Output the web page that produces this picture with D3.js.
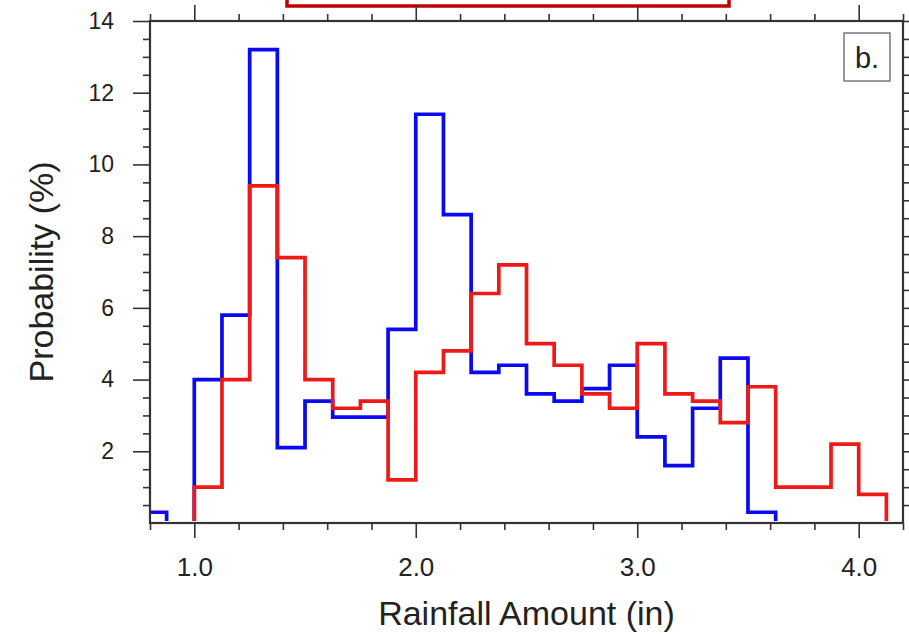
<!DOCTYPE html>
<html>
<head>
<meta charset="utf-8">
<style>
  body { margin: 0; background: #fff; }
  text { font-family: "Liberation Sans", Arial, Helvetica, sans-serif; fill: #222; }
</style>
</head>
<body>
<script src="https://cdn.jsdelivr.net/npm/d3@7"></script>
<script>
    // histogram bins (left edge of each bin, inches), width 0.125
    const binStarts = [0.75, 0.875, 1.0, 1.125, 1.25, 1.375, 1.5, 1.625, 1.75, 1.875,
        2.0, 2.125, 2.25, 2.375, 2.5, 2.625, 2.75, 2.875, 3.0, 3.125,
        3.25, 3.375, 3.5, 3.625, 3.75, 3.875, 4.0];
    const binWidth = 0.125;

    // probability (%) per bin
    const blueValues = [0.3, 0, 4.0, 5.8, 13.2, 2.1, 3.4, 2.95, 2.95, 5.4,
        11.4, 8.6, 4.2, 4.4, 3.6, 3.4, 3.75, 4.4, 2.4, 1.6,
        3.2, 4.6, 0.3];
    const redValues = [0, 0, 1.0, 4.0, 9.4, 7.4, 4.0, 3.2, 3.4, 1.2,
        4.2, 4.8, 6.4, 7.2, 5.0, 4.4, 3.6, 3.2, 5.0, 3.6,
        3.4, 2.8, 3.8, 1.0, 1.0, 2.2, 0.8];

    const xMajorTicks = [1.0, 2.0, 3.0, 4.0];
    const xMinorTicks = [0.8, 1.2, 1.4, 1.6, 1.8, 2.2, 2.4, 2.6, 2.8, 3.2, 3.4, 3.6, 3.8, 4.2];
    const yMajorTicks = [2, 4, 6, 8, 10, 12, 14];
    const yMinorTicks = [0.5, 1, 1.5, 2.5, 3, 3.5, 4.5, 5, 5.5, 6.5, 7, 7.5, 8.5, 9, 9.5,
        10.5, 11, 11.5, 12.5, 13, 13.5];

    const width = 909;
    const height = 636;
    const plotLeft = 150, plotRight = 903, plotTop = 21, plotBottom = 523;

    const xScale = d3.scaleLinear().domain([0.8, 4.2]).range([plotLeft, plotRight]);
    const yScale = d3.scaleLinear().domain([0, 14]).range([plotBottom, plotTop]);

    const svg = d3.select("body")
        .append("svg")
        .attr("width", width)
        .attr("height", height);

    // red box peeking in at the top
    svg.append("rect")
        .attr("x", 287).attr("y", -20)
        .attr("width", 442).attr("height", 26)
        .attr("fill", "none")
        .attr("stroke", "#c00000")
        .attr("stroke-width", 3.5);

    svg.append("clipPath").attr("id", "plot")
        .append("rect")
        .attr("x", plotLeft).attr("y", plotTop)
        .attr("width", plotRight - plotLeft).attr("height", plotBottom - 2 - plotTop);

    function stepPoints(values) {
        const pts = [[binStarts[0], 0]];
        values.forEach((v, i) => pts.push([binStarts[i], v]));
        const last = binStarts[values.length - 1] + binWidth;
        pts.push([last, values[values.length - 1]]);
        pts.push([last, 0]);
        return pts;
    }

    const line = d3.line()
        .x(d => xScale(d[0]))
        .y(d => yScale(d[1]))
        .curve(d3.curveStepAfter);

    const series = [
        { values: blueValues, color: "#0a0af0" },
        { values: redValues, color: "#ee1a1a" }
    ];

    svg.append("g")
        .attr("clip-path", "url(#plot)")
        .selectAll("path")
        .data(series)
        .enter()
        .append("path")
        .attr("d", d => line(stepPoints(d.values)))
        .attr("fill", "none")
        .attr("stroke", d => d.color)
        .attr("stroke-width", 3.7)
        .attr("stroke-linejoin", "miter");

    // axes: ticks outward on all four sides
    function styleAxis(g) {
        g.select(".domain").remove();
        g.selectAll(".tick line").attr("stroke", "#333").attr("stroke-width", 1.6);
    }

    const xMajor = d3.axisBottom(xScale).tickValues(xMajorTicks).tickSize(15).tickPadding(20)
        .tickFormat(d3.format(".1f"));
    const xMinor = d3.axisBottom(xScale).tickValues(xMinorTicks).tickSize(7).tickFormat("");
    const xTopMajor = d3.axisTop(xScale).tickValues(xMajorTicks).tickSize(16).tickFormat("");
    const xTopMinor = d3.axisTop(xScale).tickValues(xMinorTicks).tickSize(7).tickFormat("");

    const yMajor = d3.axisLeft(yScale).tickValues(yMajorTicks).tickSize(17).tickPadding(19);
    const yMinor = d3.axisLeft(yScale).tickValues(yMinorTicks).tickSize(7).tickFormat("");
    const yRightMajor = d3.axisRight(yScale).tickValues(yMajorTicks).tickSize(17).tickFormat("");
    const yRightMinor = d3.axisRight(yScale).tickValues(yMinorTicks).tickSize(7).tickFormat("");

    svg.append("g").attr("transform", "translate(0," + plotBottom + ")").call(xMajor).call(styleAxis)
        .selectAll("text").attr("font-size", 26).attr("fill", "#222")
        .attr("font-family", "Liberation Sans, Arial, sans-serif");
    svg.append("g").attr("transform", "translate(0," + plotBottom + ")").call(xMinor).call(styleAxis);
    svg.append("g").attr("transform", "translate(0," + plotTop + ")").call(xTopMajor).call(styleAxis);
    svg.append("g").attr("transform", "translate(0," + plotTop + ")").call(xTopMinor).call(styleAxis);

    svg.append("g").attr("transform", "translate(" + plotLeft + ",0)").call(yMajor).call(styleAxis)
        .selectAll("text").attr("font-size", 23).attr("fill", "#222")
        .attr("font-family", "Liberation Sans, Arial, sans-serif");
    svg.append("g").attr("transform", "translate(" + plotLeft + ",0)").call(yMinor).call(styleAxis);
    svg.append("g").attr("transform", "translate(" + plotRight + ",0)").call(yRightMajor).call(styleAxis);
    svg.append("g").attr("transform", "translate(" + plotRight + ",0)").call(yRightMinor).call(styleAxis);

    // frame
    svg.append("rect")
        .attr("x", plotLeft).attr("y", plotTop)
        .attr("width", plotRight - plotLeft).attr("height", plotBottom - plotTop)
        .attr("fill", "none")
        .attr("stroke", "#333")
        .attr("stroke-width", 2.2);

    // panel label
    svg.append("rect")
        .attr("x", 844).attr("y", 33)
        .attr("width", 46).attr("height", 48)
        .attr("fill", "#fff")
        .attr("stroke", "#555")
        .attr("stroke-width", 1.2);
    svg.append("text")
        .attr("x", 867).attr("y", 68)
        .attr("text-anchor", "middle")
        .attr("font-size", 29)
        .text("b.");

    // axis titles
    svg.append("text")
        .attr("x", (plotLeft + plotRight) / 2).attr("y", 625)
        .attr("text-anchor", "middle")
        .attr("font-size", 34)
        .text("Rainfall Amount (in)");

    svg.append("text")
        .attr("transform", "translate(53," + (plotTop + plotBottom) / 2 + ") rotate(-90)")
        .attr("text-anchor", "middle")
        .attr("font-size", 34)
        .text("Probability (%)");
</script>
</body>
</html>
